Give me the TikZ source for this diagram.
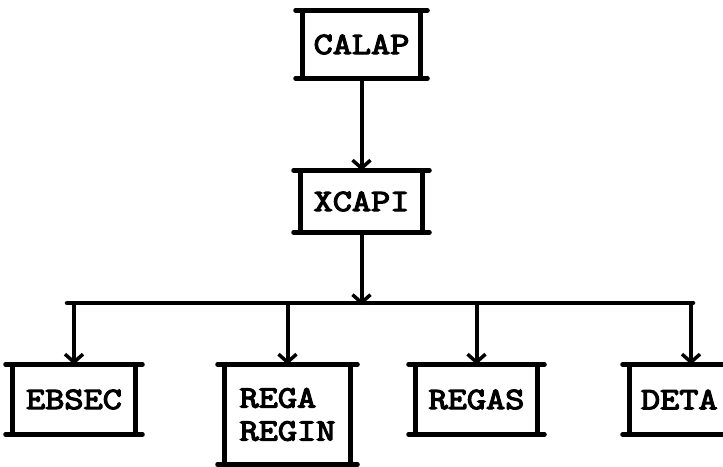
\documentclass[tikz,border=0pt]{standalone}
\usepackage{fontspec}
\newfontfamily\modfont[FakeBold=4,FakeStretch=1.2]{Latin Modern Mono}
\usetikzlibrary{arrows.meta}
% frame of a module box: heavy sides, top and bottom rules that overhang the corners
\newcommand\modframe[1]{%
  \draw[rule] ([xshift=-7pt]#1.north west) -- ([xshift=7pt]#1.north east)
              ([xshift=-7pt]#1.south west) -- ([xshift=7pt]#1.south east)
              (#1.north west) -- (#1.south west)
              (#1.north east) -- (#1.south east);}
\begin{document}
\begin{tikzpicture}[x=1pt,y=-1pt,
  mod/.style={inner sep=0pt, outer sep=2.5pt, align=center,
              font=\modfont\fontsize{31}{33}\selectfont},
  rule/.style={line width=4.5pt, line cap=round},
  link/.style={line width=4pt, -{Straight Barb[length=8pt,width=18pt,line width=3.5pt]}}]
\useasboundingbox (0,0) rectangle (723,466);
\clip (0,0) rectangle (723,466);
\fill[white] (0,0) rectangle (723,466);

% modules
\node[mod, minimum width=113pt, minimum height=63pt] (calap) at (361.5,44.5) {CALAP};
\node[mod, minimum width=117pt, minimum height=57pt] (xcapi) at (361.5,201.5) {XCAPI};
\node[mod, minimum width=118pt, minimum height=65pt] (ebsec) at (74,399.5) {EBSEC};
\node[mod, minimum width=121pt, minimum height=95pt, align=left] (rega) at (287.5,414.5) {REGA\\REGIN};
\node[mod, minimum width=117pt, minimum height=65pt] (regas) at (476.5,399.5) {REGAS};
\node[mod, minimum width=118pt, minimum height=65pt, text width=100pt, align=left] (deta) at (691,399.5) {DETA};
\foreach \m in {calap,xcapi,ebsec,rega,regas,deta} {\modframe{\m}}

% calls
\coordinate (busL) at (67,303);
\coordinate (busR) at (693,303);
\coordinate (busC) at (361.5,303);
\draw[link] (calap) -- (xcapi);
\draw[link] (xcapi) -- ([yshift=-2pt]busC);
\draw[rule] (busL) -- (busR);
\draw[link] (ebsec.north |- busL) -- (ebsec);
\draw[link] (rega.north |- busL) -- (rega);
\draw[link] (regas.north |- busL) -- (regas);
\draw[link] (deta.north |- busL) -- (deta);
\end{tikzpicture}
\end{document}
